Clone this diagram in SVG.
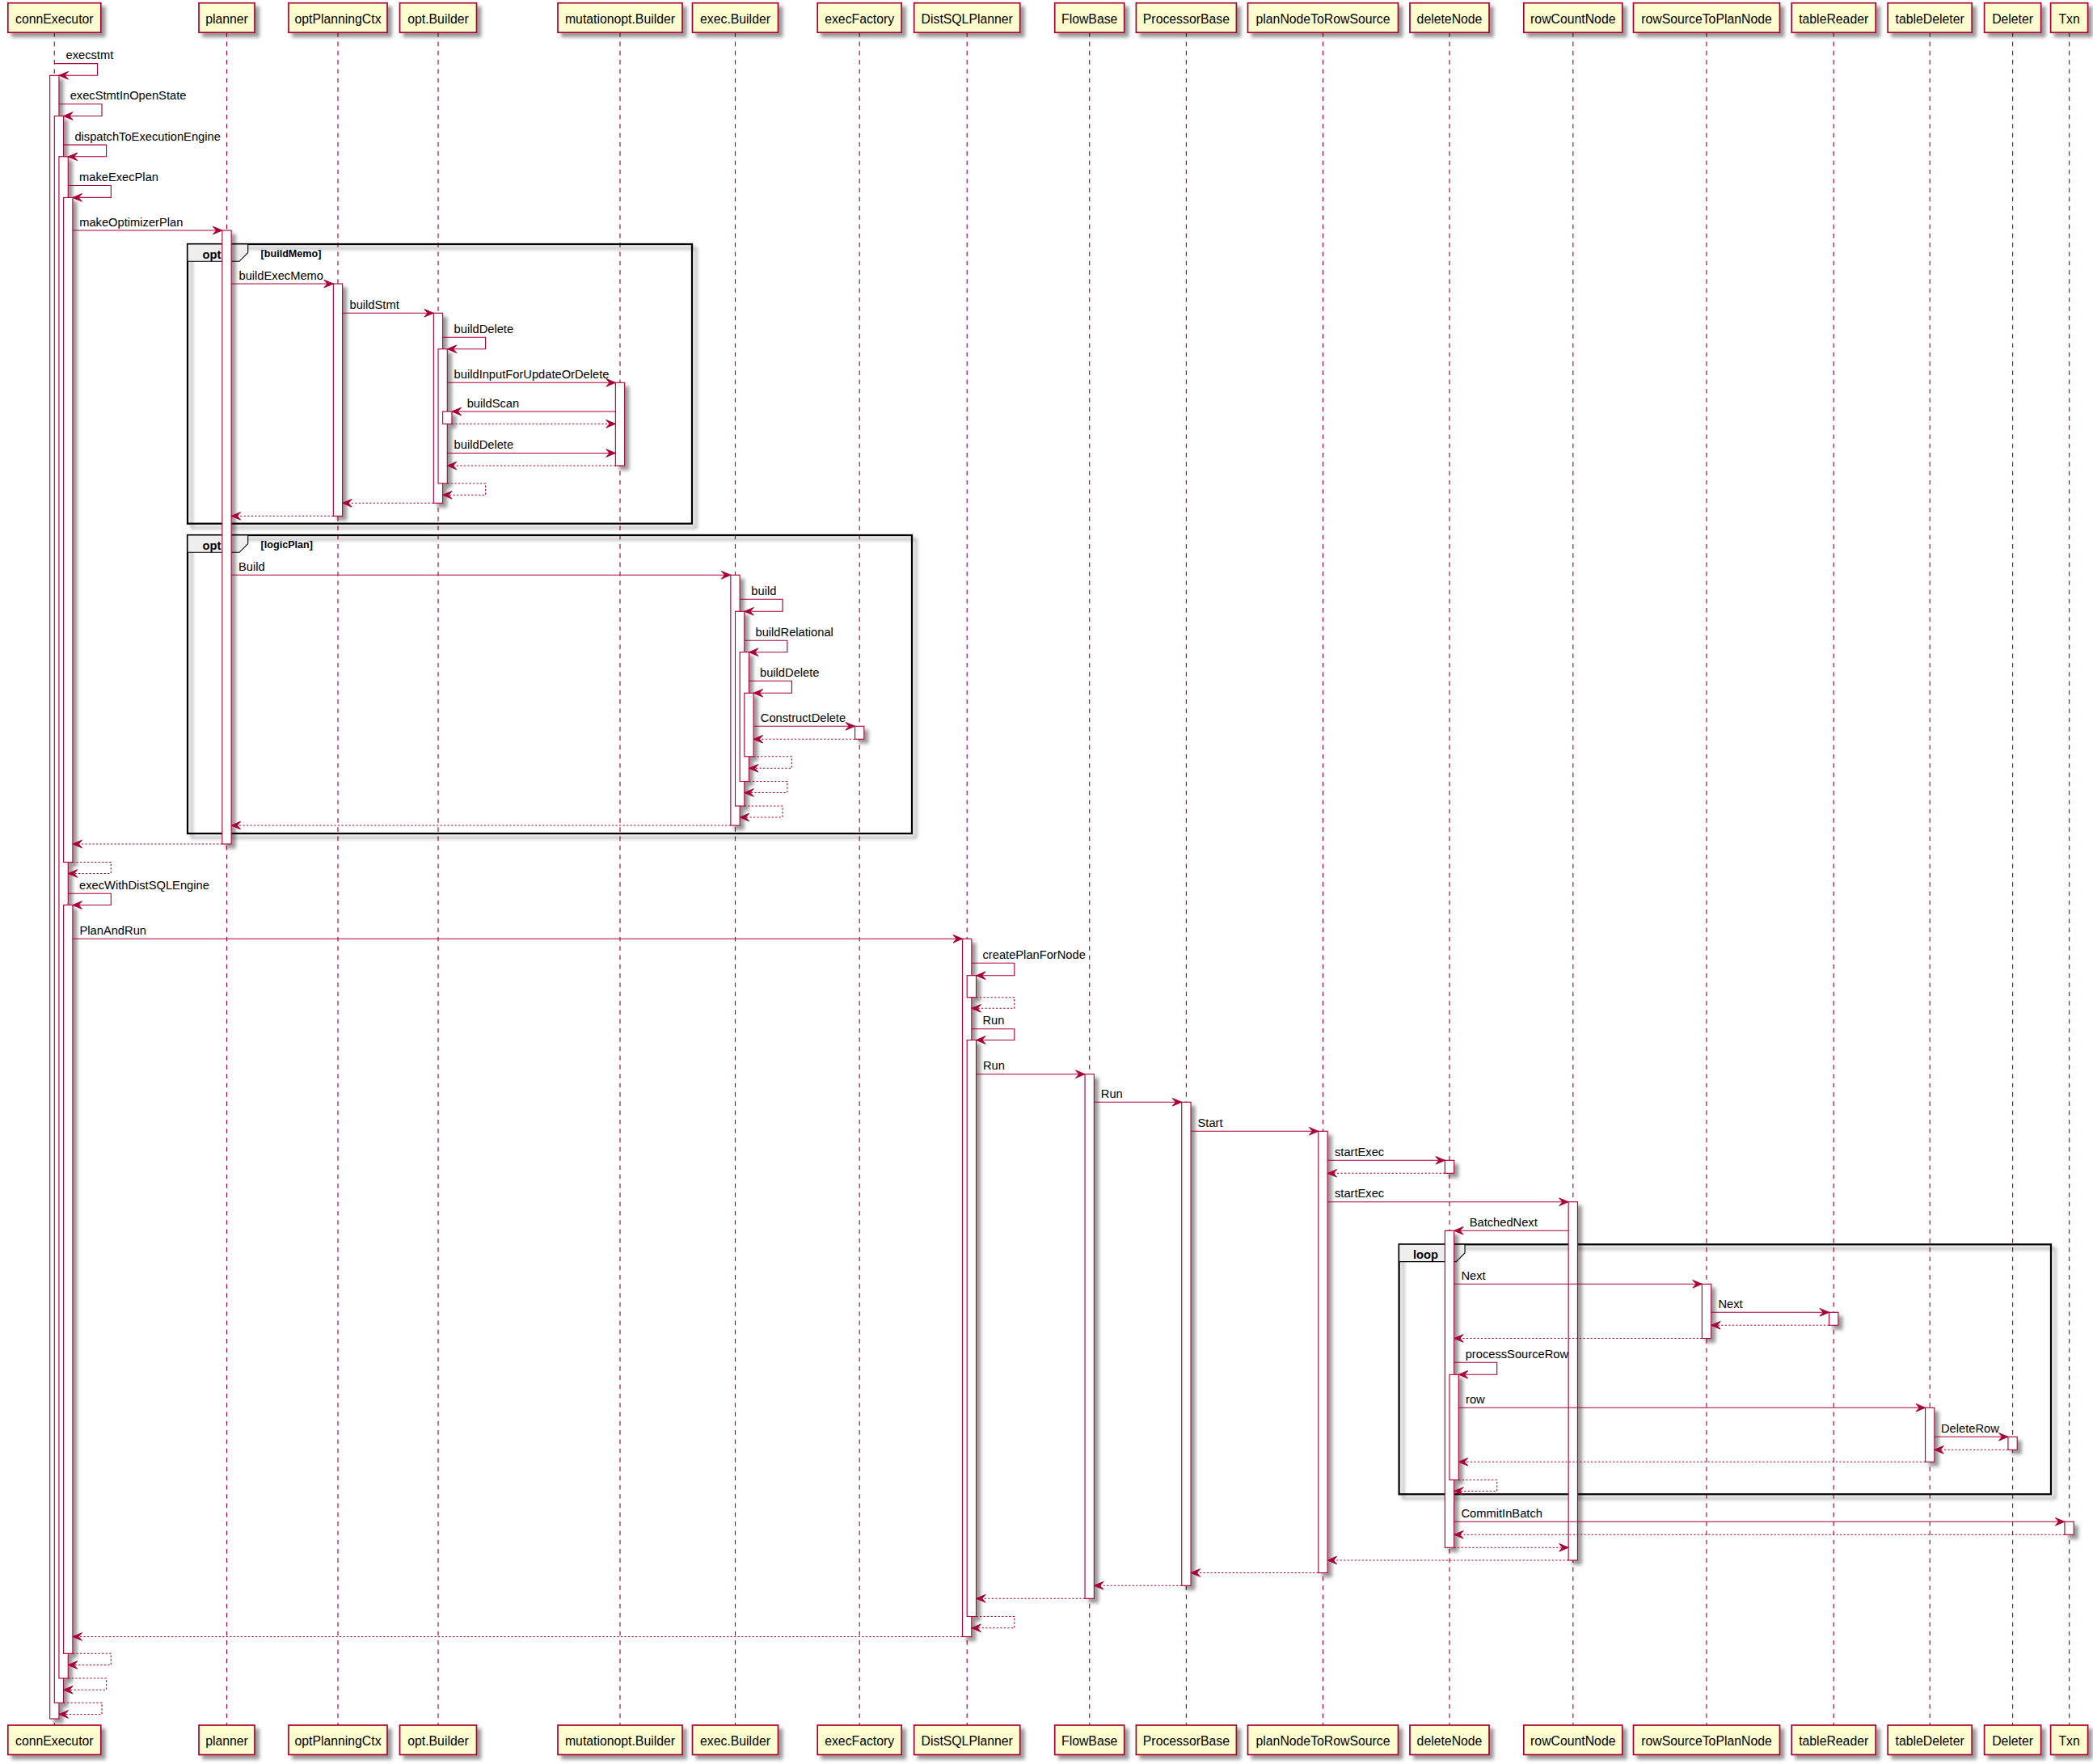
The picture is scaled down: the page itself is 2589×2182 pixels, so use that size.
<svg xmlns="http://www.w3.org/2000/svg" width="2589" height="2182" viewBox="0 0 2589 2182">
<defs>
<style>
.box{fill:#FEFECE;stroke:#A80036;stroke-width:1.7}
.pname{font-family:"Liberation Sans",Arial,sans-serif;font-size:15.8px;fill:#000;text-anchor:middle}
.life{stroke:#A80036;stroke-width:1.13;stroke-dasharray:5.65,5.65;fill:none}
.act{fill:#FFFFFF;stroke:#A80036;stroke-width:1.13}
.msg{stroke:#A80036;stroke-width:1.13;fill:none;marker-end:url(#ah)}
.ret{stroke-dasharray:2.26,2.26}
.lbl{font-family:"Liberation Sans",Arial,sans-serif;font-size:14.7px;fill:#000}
.frame{fill:none;stroke:#000;stroke-width:2.26}
.tab{fill:#EEEEEE;stroke:#000;stroke-width:1.13}
.ftitle{font-family:"Liberation Sans",Arial,sans-serif;font-weight:bold;font-size:14.7px;fill:#000}
.fcond{font-family:"Liberation Sans",Arial,sans-serif;font-weight:bold;font-size:12.6px;fill:#000}
</style>
<filter id="sh" filterUnits="userSpaceOnUse" x="0" y="0" width="2589" height="2182">
<feGaussianBlur in="SourceAlpha" stdDeviation="2.2" result="b"/>
<feOffset in="b" dx="4.5" dy="4.5" result="o"/>
<feColorMatrix in="o" type="matrix" values="0 0 0 0 0  0 0 0 0 0  0 0 0 0 0  0 0 0 0.4 0" result="s"/>
<feMerge><feMergeNode in="s"/><feMergeNode in="SourceGraphic"/></feMerge>
</filter>
<marker id="ah" markerUnits="userSpaceOnUse" viewBox="-13 -6 14 12" refX="0" refY="0" markerWidth="14" markerHeight="12" orient="auto">
<path d="M0,0 L-11.5,-4.8 L-7.3,0 L-11.5,4.8 Z" fill="#A80036" stroke="#A80036" stroke-width="1" stroke-dasharray="none"/>
</marker>
</defs>
<rect width="2589" height="2182" fill="#FFFFFF"/>

<g id="participants">
<g id="p-connExecutor"><line class="life" x1="67.3" y1="40.2" x2="67.3" y2="2134"/><rect class="box" filter="url(#sh)" x="9.8" y="3.7" width="115" height="36.5"/><text class="pname" x="67.3" y="29">connExecutor</text><rect class="box" filter="url(#sh)" x="9.8" y="2134" width="115" height="36.5"/><text class="pname" x="67.3" y="2159.3">connExecutor</text></g>
<g id="p-planner"><line class="life" x1="280.5" y1="40.2" x2="280.5" y2="2134"/><rect class="box" filter="url(#sh)" x="246" y="3.7" width="69" height="36.5"/><text class="pname" x="280.5" y="29">planner</text><rect class="box" filter="url(#sh)" x="246" y="2134" width="69" height="36.5"/><text class="pname" x="280.5" y="2159.3">planner</text></g>
<g id="p-optPlanningCtx"><line class="life" x1="418" y1="40.2" x2="418" y2="2134"/><rect class="box" filter="url(#sh)" x="357" y="3.7" width="122" height="36.5"/><text class="pname" x="418" y="29">optPlanningCtx</text><rect class="box" filter="url(#sh)" x="357" y="2134" width="122" height="36.5"/><text class="pname" x="418" y="2159.3">optPlanningCtx</text></g>
<g id="p-optBuilder"><line class="life" x1="542" y1="40.2" x2="542" y2="2134"/><rect class="box" filter="url(#sh)" x="494.5" y="3.7" width="95" height="36.5"/><text class="pname" x="542" y="29">opt.Builder</text><rect class="box" filter="url(#sh)" x="494.5" y="2134" width="95" height="36.5"/><text class="pname" x="542" y="2159.3">opt.Builder</text></g>
<g id="p-mutationoptBuilder"><line class="life" x1="767" y1="40.2" x2="767" y2="2134"/><rect class="box" filter="url(#sh)" x="690" y="3.7" width="154" height="36.5"/><text class="pname" x="767" y="29">mutationopt.Builder</text><rect class="box" filter="url(#sh)" x="690" y="2134" width="154" height="36.5"/><text class="pname" x="767" y="2159.3">mutationopt.Builder</text></g>
<g id="p-execBuilder"><line class="life" x1="909.5" y1="40.2" x2="909.5" y2="2134"/><rect class="box" filter="url(#sh)" x="856.5" y="3.7" width="106" height="36.5"/><text class="pname" x="909.5" y="29">exec.Builder</text><rect class="box" filter="url(#sh)" x="856.5" y="2134" width="106" height="36.5"/><text class="pname" x="909.5" y="2159.3">exec.Builder</text></g>
<g id="p-execFactory"><line class="life" x1="1063.2" y1="40.2" x2="1063.2" y2="2134"/><rect class="box" filter="url(#sh)" x="1011.2" y="3.7" width="104" height="36.5"/><text class="pname" x="1063.2" y="29">execFactory</text><rect class="box" filter="url(#sh)" x="1011.2" y="2134" width="104" height="36.5"/><text class="pname" x="1063.2" y="2159.3">execFactory</text></g>
<g id="p-DistSQLPlanner"><line class="life" x1="1196.2" y1="40.2" x2="1196.2" y2="2134"/><rect class="box" filter="url(#sh)" x="1130.7" y="3.7" width="131" height="36.5"/><text class="pname" x="1196.2" y="29">DistSQLPlanner</text><rect class="box" filter="url(#sh)" x="1130.7" y="2134" width="131" height="36.5"/><text class="pname" x="1196.2" y="2159.3">DistSQLPlanner</text></g>
<g id="p-FlowBase"><line class="life" x1="1347.7" y1="40.2" x2="1347.7" y2="2134"/><rect class="box" filter="url(#sh)" x="1304.7" y="3.7" width="86" height="36.5"/><text class="pname" x="1347.7" y="29">FlowBase</text><rect class="box" filter="url(#sh)" x="1304.7" y="2134" width="86" height="36.5"/><text class="pname" x="1347.7" y="2159.3">FlowBase</text></g>
<g id="p-ProcessorBase"><line class="life" x1="1467.4" y1="40.2" x2="1467.4" y2="2134"/><rect class="box" filter="url(#sh)" x="1405.4" y="3.7" width="124" height="36.5"/><text class="pname" x="1467.4" y="29">ProcessorBase</text><rect class="box" filter="url(#sh)" x="1405.4" y="2134" width="124" height="36.5"/><text class="pname" x="1467.4" y="2159.3">ProcessorBase</text></g>
<g id="p-planNodeToRowSource"><line class="life" x1="1636.5" y1="40.2" x2="1636.5" y2="2134"/><rect class="box" filter="url(#sh)" x="1543.5" y="3.7" width="186" height="36.5"/><text class="pname" x="1636.5" y="29">planNodeToRowSource</text><rect class="box" filter="url(#sh)" x="1543.5" y="2134" width="186" height="36.5"/><text class="pname" x="1636.5" y="2159.3">planNodeToRowSource</text></g>
<g id="p-deleteNode"><line class="life" x1="1793" y1="40.2" x2="1793" y2="2134"/><rect class="box" filter="url(#sh)" x="1744" y="3.7" width="98" height="36.5"/><text class="pname" x="1793" y="29">deleteNode</text><rect class="box" filter="url(#sh)" x="1744" y="2134" width="98" height="36.5"/><text class="pname" x="1793" y="2159.3">deleteNode</text></g>
<g id="p-rowCountNode"><line class="life" x1="1945.8" y1="40.2" x2="1945.8" y2="2134"/><rect class="box" filter="url(#sh)" x="1884.8" y="3.7" width="122" height="36.5"/><text class="pname" x="1945.8" y="29">rowCountNode</text><rect class="box" filter="url(#sh)" x="1884.8" y="2134" width="122" height="36.5"/><text class="pname" x="1945.8" y="2159.3">rowCountNode</text></g>
<g id="p-rowSourceToPlanNode"><line class="life" x1="2111" y1="40.2" x2="2111" y2="2134"/><rect class="box" filter="url(#sh)" x="2020.5" y="3.7" width="181" height="36.5"/><text class="pname" x="2111" y="29">rowSourceToPlanNode</text><rect class="box" filter="url(#sh)" x="2020.5" y="2134" width="181" height="36.5"/><text class="pname" x="2111" y="2159.3">rowSourceToPlanNode</text></g>
<g id="p-tableReader"><line class="life" x1="2268.2" y1="40.2" x2="2268.2" y2="2134"/><rect class="box" filter="url(#sh)" x="2216.2" y="3.7" width="104" height="36.5"/><text class="pname" x="2268.2" y="29">tableReader</text><rect class="box" filter="url(#sh)" x="2216.2" y="2134" width="104" height="36.5"/><text class="pname" x="2268.2" y="2159.3">tableReader</text></g>
<g id="p-tableDeleter"><line class="life" x1="2387.2" y1="40.2" x2="2387.2" y2="2134"/><rect class="box" filter="url(#sh)" x="2335.2" y="3.7" width="104" height="36.5"/><text class="pname" x="2387.2" y="29">tableDeleter</text><rect class="box" filter="url(#sh)" x="2335.2" y="2134" width="104" height="36.5"/><text class="pname" x="2387.2" y="2159.3">tableDeleter</text></g>
<g id="p-Deleter"><line class="life" x1="2489.6" y1="40.2" x2="2489.6" y2="2134"/><rect class="box" filter="url(#sh)" x="2454.6" y="3.7" width="70" height="36.5"/><text class="pname" x="2489.6" y="29">Deleter</text><rect class="box" filter="url(#sh)" x="2454.6" y="2134" width="70" height="36.5"/><text class="pname" x="2489.6" y="2159.3">Deleter</text></g>
<g id="p-Txn"><line class="life" x1="2559.6" y1="40.2" x2="2559.6" y2="2134"/><rect class="box" filter="url(#sh)" x="2536.6" y="3.7" width="46" height="36.5"/><text class="pname" x="2559.6" y="29">Txn</text><rect class="box" filter="url(#sh)" x="2536.6" y="2134" width="46" height="36.5"/><text class="pname" x="2559.6" y="2159.3">Txn</text></g>
</g>

<g id="frames">
<g id="frame-opt-buildMemo"><rect class="frame" filter="url(#sh)" x="232" y="302" width="624" height="345.7"/><polygon class="tab" points="232,302 306.7,302 306.7,312.6 296,323.3 232,323.3"/></g>
<g id="frame-opt-logicPlan"><rect class="frame" filter="url(#sh)" x="232" y="662" width="896" height="369"/><polygon class="tab" points="232,662 306.7,662 306.7,672.6 296,683.3 232,683.3"/></g>
<g id="frame-loop"><rect class="frame" filter="url(#sh)" x="1730.6" y="1539.3" width="806.4" height="309"/><polygon class="tab" points="1730.6,1539.3 1812,1539.3 1812,1549.9 1801.3,1560.6 1730.6,1560.6"/></g>
</g>

<g id="activations" filter="url(#sh)">
<rect class="act" x="61.65" y="93.3" width="11.3" height="2032.7"/>
<rect class="act" x="67.3" y="143.5" width="11.3" height="1962.8"/>
<rect class="act" x="72.95" y="193.8" width="11.3" height="1882.2"/>
<rect class="act" x="78.6" y="244.4" width="11.3" height="822.1"/>
<rect class="act" x="78.6" y="1119.5" width="11.3" height="925.8"/>
<rect class="act" x="274.85" y="285" width="11.3" height="759"/>
<rect class="act" x="412.35" y="351" width="11.3" height="287.3"/>
<rect class="act" x="536.35" y="387.3" width="11.3" height="235"/>
<rect class="act" x="542" y="431.7" width="11.3" height="166.3"/>
<rect class="act" x="547.65" y="509" width="11.3" height="15.3"/>
<rect class="act" x="761.35" y="473.3" width="11.3" height="102.7"/>
<rect class="act" x="903.85" y="711.3" width="11.3" height="309.7"/>
<rect class="act" x="909.5" y="756.3" width="11.3" height="240.7"/>
<rect class="act" x="915.15" y="806.7" width="11.3" height="159.8"/>
<rect class="act" x="920.8" y="857.3" width="11.3" height="78.5"/>
<rect class="act" x="1057.55" y="898.3" width="11.3" height="16"/>
<rect class="act" x="1190.55" y="1161.3" width="11.3" height="863.2"/>
<rect class="act" x="1196.2" y="1206.7" width="11.3" height="27"/>
<rect class="act" x="1196.2" y="1286.5" width="11.3" height="713"/>
<rect class="act" x="1342.05" y="1328.7" width="11.3" height="648.6"/>
<rect class="act" x="1461.75" y="1363.3" width="11.3" height="598"/>
<rect class="act" x="1630.85" y="1399.3" width="11.3" height="546.2"/>
<rect class="act" x="1787.35" y="1435.3" width="11.3" height="16"/>
<rect class="act" x="1787.35" y="1522.3" width="11.3" height="392"/>
<rect class="act" x="1793" y="1700.3" width="11.3" height="130.4"/>
<rect class="act" x="1940.15" y="1486.7" width="11.3" height="443.3"/>
<rect class="act" x="2105.35" y="1588.3" width="11.3" height="67.2"/>
<rect class="act" x="2262.55" y="1623.3" width="11.3" height="16"/>
<rect class="act" x="2381.55" y="1741.3" width="11.3" height="67"/>
<rect class="act" x="2483.95" y="1777.3" width="11.3" height="16"/>
<rect class="act" x="2553.95" y="1882.3" width="11.3" height="16"/>
</g>

<g id="connectors">
<path class="msg" d="M67.3 78.6 H120.5 V93.3 H72.95"/>
<path class="msg" d="M72.95 128.8 H126 V143.5 H78.6"/>
<path class="msg" d="M78.6 179.1 H131.6 V193.8 H84.25"/>
<path class="msg" d="M84.25 229.5 H137.3 V244.4 H89.9"/>
<path class="msg" d="M89.9 285 H274.85"/>
<path class="msg" d="M286.15 351 H412.35"/>
<path class="msg" d="M423.65 387.3 H536.35"/>
<path class="msg" d="M547.65 417.3 H600.6 V431.7 H553.3"/>
<path class="msg" d="M553.3 473.3 H761.35"/>
<path class="msg" d="M761.35 509 H558.95"/>
<path class="msg ret" d="M558.95 524.3 H761.35"/>
<path class="msg" d="M553.3 560.5 H761.35"/>
<path class="msg ret" d="M761.35 576 H553.3"/>
<path class="msg ret" d="M553.3 598 H600.6 V612.3 H547.65"/>
<path class="msg ret" d="M536.35 622.3 H423.65"/>
<path class="msg ret" d="M412.35 638.3 H286.15"/>
<path class="msg" d="M286.15 711.3 H903.85"/>
<path class="msg" d="M915.15 741.3 H968 V756.3 H920.8"/>
<path class="msg" d="M920.8 792.3 H973.8 V806.7 H926.45"/>
<path class="msg" d="M926.45 842.3 H979.4 V857.3 H932.1"/>
<path class="msg" d="M932.1 898.3 H1057.55"/>
<path class="msg ret" d="M1057.55 914.3 H932.1"/>
<path class="msg ret" d="M932.1 935.8 H979.4 V950.3 H926.45"/>
<path class="msg ret" d="M926.45 966.5 H973.8 V980.5 H920.8"/>
<path class="msg ret" d="M920.8 997 H968 V1011 H915.15"/>
<path class="msg ret" d="M903.85 1021 H286.15"/>
<path class="msg ret" d="M274.85 1044 H89.9"/>
<path class="msg ret" d="M89.9 1066.5 H137.3 V1080.5 H84.25"/>
<path class="msg" d="M84.25 1105.3 H137.3 V1119.5 H89.9"/>
<path class="msg" d="M89.9 1161.3 H1190.55"/>
<path class="msg" d="M1201.85 1191.3 H1254.8 V1206.7 H1207.5"/>
<path class="msg ret" d="M1207.5 1233.7 H1254.8 V1247.3 H1201.85"/>
<path class="msg" d="M1201.85 1272.7 H1254.8 V1286.5 H1207.5"/>
<path class="msg" d="M1207.5 1328.7 H1342.05"/>
<path class="msg" d="M1353.35 1363.3 H1461.75"/>
<path class="msg" d="M1473.05 1399.3 H1630.85"/>
<path class="msg" d="M1642.15 1435.3 H1787.35"/>
<path class="msg ret" d="M1787.35 1451.3 H1642.15"/>
<path class="msg" d="M1642.15 1486.7 H1940.15"/>
<path class="msg" d="M1940.15 1522.3 H1798.65"/>
<path class="msg" d="M1798.65 1588.3 H2105.35"/>
<path class="msg" d="M2116.65 1623.3 H2262.55"/>
<path class="msg ret" d="M2262.55 1639.3 H2116.65"/>
<path class="msg ret" d="M2105.35 1655.5 H1798.65"/>
<path class="msg" d="M1798.65 1685.3 H1851.7 V1700.3 H1804.3"/>
<path class="msg" d="M1804.3 1741.3 H2381.55"/>
<path class="msg" d="M2392.85 1777.3 H2483.95"/>
<path class="msg ret" d="M2483.95 1793.3 H2392.85"/>
<path class="msg ret" d="M2381.55 1808.3 H1804.3"/>
<path class="msg ret" d="M1804.3 1830.7 H1851.7 V1844.5 H1798.65"/>
<path class="msg" d="M1798.65 1882.3 H2553.95"/>
<path class="msg ret" d="M2553.95 1898.3 H1798.65"/>
<path class="msg ret" d="M1798.65 1914.3 H1940.15"/>
<path class="msg ret" d="M1940.15 1930 H1642.15"/>
<path class="msg ret" d="M1630.85 1945.5 H1473.05"/>
<path class="msg ret" d="M1461.75 1961.3 H1353.35"/>
<path class="msg ret" d="M1342.05 1977.3 H1207.5"/>
<path class="msg ret" d="M1207.5 1999.5 H1254.8 V2013.8 H1201.85"/>
<path class="msg ret" d="M1190.55 2024.5 H89.9"/>
<path class="msg ret" d="M89.9 2045.3 H137.3 V2059.5 H84.25"/>
<path class="msg ret" d="M84.25 2076 H131.6 V2090.3 H78.6"/>
<path class="msg ret" d="M78.6 2106.3 H126 V2120.5 H72.95"/>
</g>

<g id="labels">
<text class="lbl" x="81.5" y="73.1">execstmt</text>
<text class="lbl" x="86.7" y="123.3">execStmtInOpenState</text>
<text class="lbl" x="92.4" y="173.6">dispatchToExecutionEngine</text>
<text class="lbl" x="98" y="224">makeExecPlan</text>
<text class="lbl" x="98.2" y="279.5">makeOptimizerPlan</text>
<text class="lbl" x="295.5" y="345.5">buildExecMemo</text>
<text class="lbl" x="432.5" y="381.8">buildStmt</text>
<text class="lbl" x="561.6" y="411.8">buildDelete</text>
<text class="lbl" x="561.6" y="467.8">buildInputForUpdateOrDelete</text>
<text class="lbl" x="577.7" y="503.5">buildScan</text>
<text class="lbl" x="561.6" y="555">buildDelete</text>
<text class="lbl" x="295" y="705.8">Build</text>
<text class="lbl" x="929.3" y="735.8">build</text>
<text class="lbl" x="934.5" y="786.8">buildRelational</text>
<text class="lbl" x="940" y="836.8">buildDelete</text>
<text class="lbl" x="940.8" y="892.8">ConstructDelete</text>
<text class="lbl" x="98" y="1099.8">execWithDistSQLEngine</text>
<text class="lbl" x="98.5" y="1155.8">PlanAndRun</text>
<text class="lbl" x="1215.5" y="1185.8">createPlanForNode</text>
<text class="lbl" x="1215.5" y="1267.2">Run</text>
<text class="lbl" x="1216" y="1323.2">Run</text>
<text class="lbl" x="1361.8" y="1357.8">Run</text>
<text class="lbl" x="1481.5" y="1393.8">Start</text>
<text class="lbl" x="1651" y="1429.8">startExec</text>
<text class="lbl" x="1651" y="1481.2">startExec</text>
<text class="lbl" x="1817.7" y="1516.8">BatchedNext</text>
<text class="lbl" x="1807.5" y="1582.8">Next</text>
<text class="lbl" x="2125.5" y="1617.8">Next</text>
<text class="lbl" x="1812.7" y="1679.8">processSourceRow</text>
<text class="lbl" x="1813" y="1735.8">row</text>
<text class="lbl" x="2401" y="1771.8">DeleteRow</text>
<text class="lbl" x="1807.5" y="1876.8">CommitInBatch</text>
<text class="ftitle" x="250.5" y="320">opt</text>
<text class="fcond" x="322.6" y="317.5">[buildMemo]</text>
<text class="ftitle" x="250.5" y="680">opt</text>
<text class="fcond" x="322.6" y="677.5">[logicPlan]</text>
<text class="ftitle" x="1748" y="1557.3">loop</text>
</g>
</svg>
